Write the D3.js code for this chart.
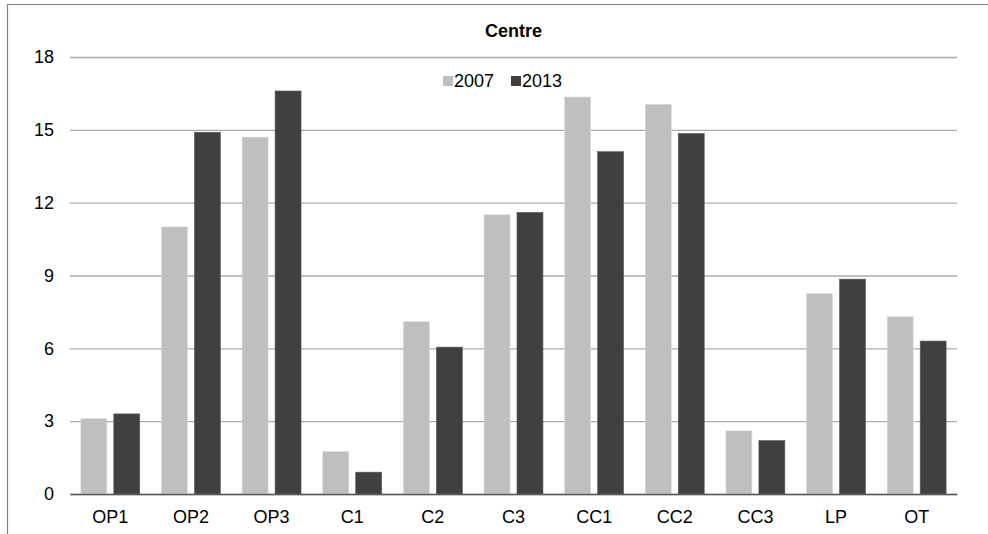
<!DOCTYPE html>
<html>
<head>
<meta charset="utf-8">
<script src="https://cdn.jsdelivr.net/npm/d3@7"></script>
<style>
  html, body { margin: 0; padding: 0; background: #fff; }
  svg { display: block; font-family: "Liberation Sans", Arial, sans-serif; }
</style>
</head>
<body>
<svg id="chart" width="988" height="534"></svg>
<script>
// Category labels along the x axis
const categories = ["OP1", "OP2", "OP3", "C1", "C2", "C3", "CC1", "CC2", "CC3", "LP", "OT"];
// Series names (legend order)
const seriesNames = ["2007", "2013"];
// Values per series
const values2007 = [3.1, 11.0, 14.7, 1.75, 7.1, 11.5, 16.35, 16.05, 2.6, 8.25, 7.3];
const values2013 = [3.3, 14.9, 16.6, 0.9, 6.05, 11.6, 14.1, 14.85, 2.2, 8.85, 6.3];
// Y axis ticks
const yTicks = [0, 3, 6, 9, 12, 15, 18];
const seriesColors = ["#bfbfbf", "#404040"];
const chartTitle = "Centre";

const svg = d3.select("#chart");
const margin = { left: 70, right: 31, top: 57, bottom: 40 };
const W = 988, H = 534;
const fontSize = 18;

// Outer frame (only top and left edges fall inside the canvas)
svg.append("path")
  .attr("d", `M7.5,${H} L7.5,4.5 L${W},4.5`)
  .attr("fill", "none")
  .attr("stroke", "#808080")
  .attr("stroke-width", 1.2);

const x0 = d3.scaleBand()
  .domain(categories)
  .range([margin.left, W - margin.right])
  .paddingInner(0)
  .paddingOuter(0);

const x1 = d3.scaleBand()
  .domain(seriesNames)
  .range([0, x0.bandwidth()])
  .paddingInner(0.212)
  .paddingOuter(0.33);

const y = d3.scaleLinear()
  .domain([0, 18])
  .range([H - margin.bottom, margin.top]);

// Gridlines and y labels
const yAxis = d3.axisLeft(y)
  .tickValues(yTicks)
  .tickSize(-(W - margin.left - margin.right))
  .tickPadding(16)
  .tickFormat(d3.format("d"));

const gy = svg.append("g")
  .attr("transform", `translate(${margin.left},0)`)
  .call(yAxis);
gy.select(".domain").remove();
gy.selectAll(".tick line")
  .attr("stroke", "#ababab")
  .attr("stroke-width", 1.3);
gy.selectAll(".tick text")
  .attr("font-size", fontSize)
  .attr("fill", "#000")
  .attr("font-family", "Liberation Sans, Arial, sans-serif");

// Bars
const rows = categories.map((c, i) => ({ cat: c, vals: [values2007[i], values2013[i]] }));
const groups = svg.append("g").selectAll("g")
  .data(rows)
  .join("g")
  .attr("transform", d => `translate(${x0(d.cat)},0)`);

groups.selectAll("rect")
  .data(d => d.vals.map((v, j) => ({ key: seriesNames[j], v, j })))
  .join("rect")
  .attr("x", d => x1(d.key))
  .attr("y", d => y(d.v))
  .attr("width", x1.bandwidth())
  .attr("height", d => y(0) - y(d.v))
  .attr("fill", d => seriesColors[d.j])
  .attr("stroke", d => d.j === 0 ? "#d9d9d9" : "#5a5a5a")
  .attr("stroke-width", 0.6);

// X axis
const xAxis = d3.axisBottom(x0).tickSize(0).tickPadding(16);
const gx = svg.append("g")
  .attr("transform", `translate(0,${y(0)})`)
  .call(xAxis);
gx.select(".domain")
  .attr("stroke", "#595959")
  .attr("stroke-width", 1.6);
gx.selectAll(".tick text")
  .attr("font-size", fontSize)
  .attr("fill", "#000")
  .attr("font-family", "Liberation Sans, Arial, sans-serif");

// Title
svg.append("text")
  .attr("x", (margin.left + W - margin.right) / 2)
  .attr("y", 37)
  .attr("text-anchor", "middle")
  .attr("font-size", fontSize)
  .attr("font-weight", "bold")
  .attr("fill", "#000")
  .text(chartTitle);

// Legend
const legendX = [443, 511];
const legend = svg.append("g").selectAll("g")
  .data(seriesNames)
  .join("g")
  .attr("transform", (d, i) => `translate(${legendX[i]},0)`);
legend.append("rect")
  .attr("x", 0).attr("y", 76)
  .attr("width", 10).attr("height", 10)
  .attr("fill", (d, i) => seriesColors[i]);
legend.append("text")
  .attr("x", 11).attr("y", 87)
  .attr("font-size", fontSize)
  .attr("fill", "#000")
  .text(d => d);
</script>
</body>
</html>
